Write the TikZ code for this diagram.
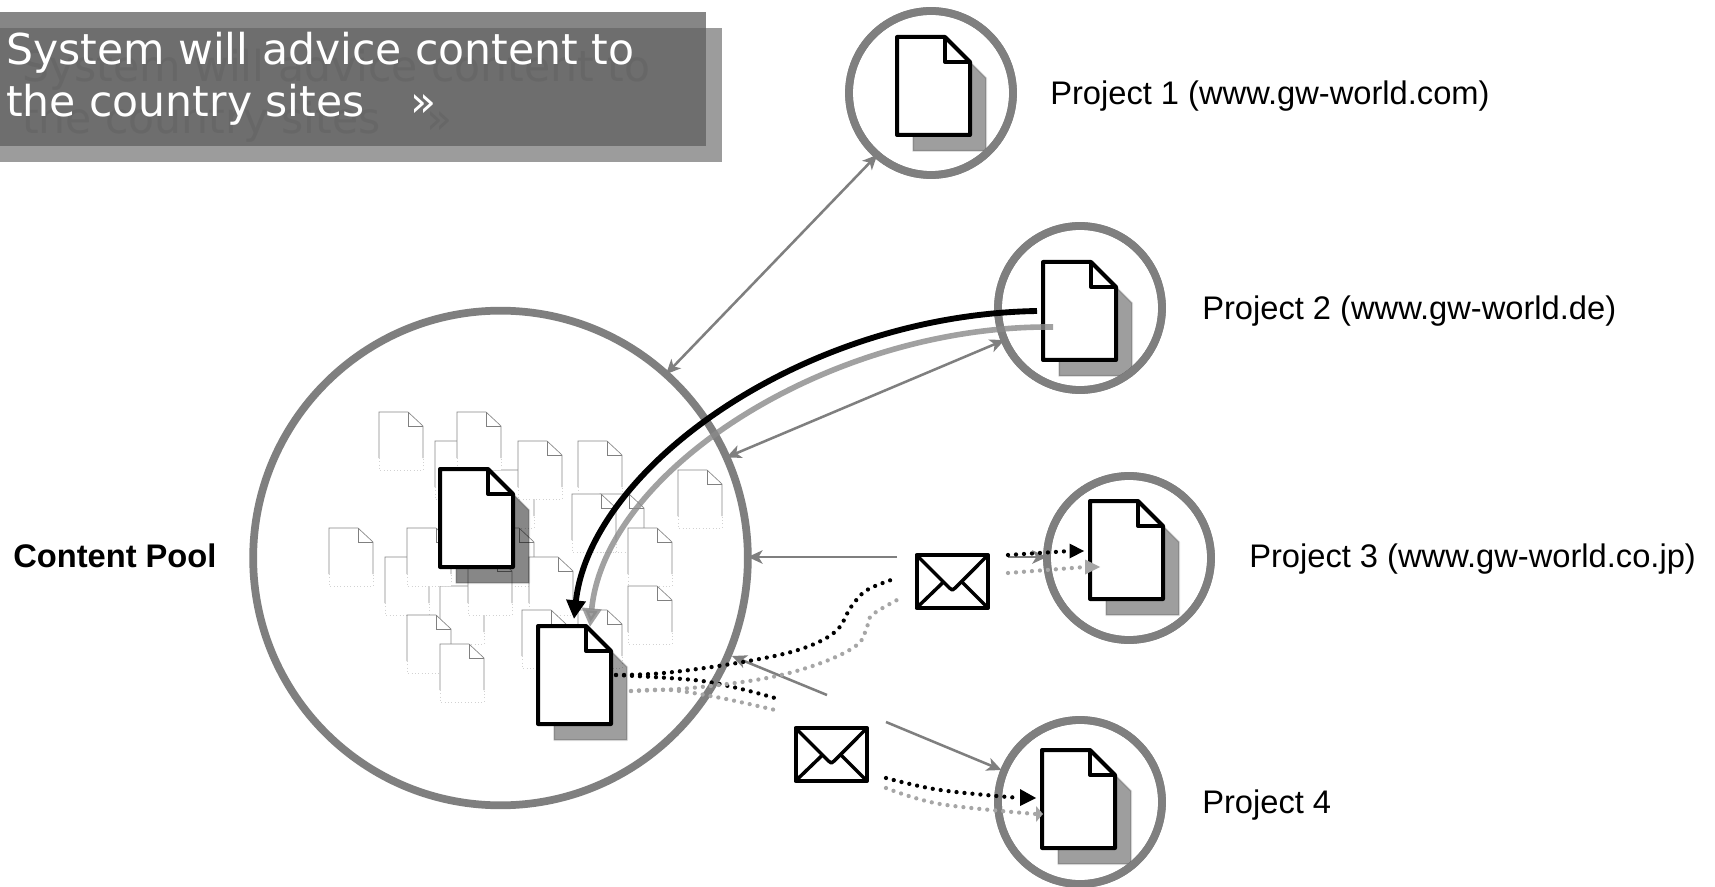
\documentclass[tikz,border=0pt]{standalone}
\usepackage{fontspec}
\setmainfont{Liberation Sans}
\newfontfamily\bannerfont{DejaVu Sans}
\usetikzlibrary{arrows.meta}
\definecolor{ringgray}{HTML}{7F7F7F}
\definecolor{lightcurve}{HTML}{8A8A8A}
\definecolor{dotgray}{HTML}{A6A6A6}
\definecolor{bannerback}{HTML}{9C9C9C}
\definecolor{bannertop}{HTML}{868686}
\definecolor{bannermid}{HTML}{6E6E6E}
\definecolor{bannerghost}{HTML}{676767}
\tikzset{
  ringline/.style={draw=ringgray,line width=5.8pt},
  ring/.style={circle,ringline,fill=white,inner sep=0pt,outer sep=0pt},
  smallring/.style={ring,minimum size=123pt},
  poolring/.style={ring,minimum size=371pt},
  thinarrow/.style={draw=ringgray,line width=1.9pt,-{Stealth[length=11pt,width=10pt,inset=3pt]}},
  thinboth/.style={draw=ringgray,line width=1.9pt,{Stealth[length=11pt,width=10pt,inset=3pt]}-{Stealth[length=11pt,width=10pt,inset=3pt]}},
  dotblack/.style={draw=black,line width=3.2pt,line cap=round,dash pattern=on 0pt off 6pt},
  dotgrayline/.style={draw=dotgray,line width=3.2pt,line cap=round,dash pattern=on 0pt off 6pt},
  tipblack/.style={fill=black},
  tipgray/.style={fill=dotgray},
  label/.style={anchor=west,inner sep=0pt,font=\fontsize{24.5}{28}\selectfont},
  doc/.style={draw=black,line width=3pt,line join=round,fill=white},
  foldline/.style={draw=black,line width=3pt,line join=round},
  envbox/.style={draw=black,line width=3pt,line join=round,fill=white},
  bannertext/.style={anchor=north west,inner sep=0pt,align=left,font=\bannerfont\fontsize{31.9}{39}\selectfont}
}
\newcommand{\bigdoc}[3]{%
  \begin{scope}[shift={(#1,#2)}]
    \fill[black,opacity=#3] (64,16)--(89,41)--(89,114)--(16,114)--(16,16)--cycle;
    \draw[black,opacity=.12,line width=1.5pt,line join=round] (64,16)--(89,41)--(89,114)--(16,114)--(16,16)--cycle;
    \path[doc] (0,0)--(48,0)--(73,25)--(73,98)--(0,98)--cycle;
    \path[foldline] (48,0)--(48,25)--(73,25);
  \end{scope}}
\newcommand{\faintdoc}[2]{%
  \begin{scope}[shift={(#1,#2)}]
    \fill[white] (0,0)--(29,0)--(44,14)--(44,58)--(0,58)--cycle;
    \draw[gray!95,line width=.5pt] (0,46)--(0,0)--(29,0)--(44,14)--(44,46);
    \draw[gray,line width=.5pt] (29,0)--(29,14)--(44,14);
    \draw[gray!35,line width=.5pt,dotted] (0,46)--(0,58)--(44,58)--(44,46);
  \end{scope}}
\newcommand{\envelope}[2]{%
  \begin{scope}[shift={(#1,#2)}]
    \path[envbox] (0,0) rectangle (71.5,53);
    \draw[black,line width=2.6pt,line join=round] (0,0)--(33,33)--(35.8,35)--(38.6,33)--(71.5,0);
    \draw[black,line width=2.6pt] (0,53)--(27.5,26.5) (71.5,53)--(45,26.5);
  \end{scope}}
\begin{document}
\begin{tikzpicture}[x=0.75pt,y=-0.75pt]
\useasboundingbox (0,0) rectangle (1715,887);
\fill[white] (0,0) rectangle (1715,887);

% banner
\fill[bannerback] (0,28) rectangle (722,162);
\fill[bannertop] (0,12) rectangle (706,146);
\fill[bannermid] (0,28) rectangle (706,146);
\node[bannertext,text=bannerghost] (ghost) at (22,49) {System will advice content to\\the country sites\hspace{34pt}»};
\node[bannertext,text=white] (title) at (6,32) {System will advice content to\\the country sites\hspace{34pt}»};

% rings
\node[poolring] (pool) at (500.5,558) {};
\node[smallring] (p1) at (931,93) {};
\node[smallring] (p2) at (1080,308) {};
\node[smallring] (p3) at (1129,558) {};
\node[smallring] (p4) at (1080,802) {};

% faint documents of the pool
\faintdoc{435}{441}\faintdoc{490}{470}\faintdoc{490}{528}\faintdoc{440}{586}\faintdoc{468}{557}
\faintdoc{379}{412}\faintdoc{457}{412}\faintdoc{518}{441}\faintdoc{578}{441}
\faintdoc{600}{494}\faintdoc{572}{494}\faintdoc{678}{470}\faintdoc{329}{528}
\faintdoc{385}{557}\faintdoc{407}{528}\faintdoc{529}{557}\faintdoc{628}{528}
\faintdoc{628}{586}\faintdoc{407}{615}\faintdoc{440}{644}
\faintdoc{522}{610}\faintdoc{578}{610}

% documents
\bigdoc{440}{469}{.47}
\bigdoc{538}{626}{.38}
\bigdoc{897}{37}{.38}
\bigdoc{1043}{262}{.38}
\bigdoc{1090}{501}{.38}
\bigdoc{1042}{750}{.38}

% ring outlines above the shadows
\draw[ringline] (p1) circle [radius=61.5pt];
\draw[ringline] (p2) circle [radius=61.5pt];
\draw[ringline] (p3) circle [radius=61.5pt];
\draw[ringline] (p4) circle [radius=61.5pt];

% envelopes
\envelope{916.5}{555}
\envelope{795.5}{728}

% labels
\node[label] (l1) at (1050,96) {Project 1 (www.gw-world.com)};
\node[label] (l2) at (1202,311) {Project 2 (www.gw-world.de)};
\node[label] (l3) at (1249,559) {Project 3 (www.gw-world.co.jp)};
\node[label] (l4) at (1202,805) {Project 4};
\node[label,font=\bfseries\fontsize{24.5}{28}\selectfont] (lpool) at (13,556) {Content Pool};

% named free ends
\coordinate (e1l) at (897,557);
\coordinate (e1r) at (1008,557);
\coordinate (e2a) at (827,695);
\coordinate (e2b) at (886,722);
\coordinate (srcblack) at (1037,311);
\coordinate (srcgray) at (1053,327);
\coordinate (dstblack) at (574,619);
\coordinate (dstgray) at (590,627);
\coordinate (dotstart) at (616,675);
\coordinate (dotgraystart) at (631,691);
\coordinate (tipa) at (1084,551);
\coordinate (tipb) at (1100,567);
\coordinate (tipc) at (1036,798);
\coordinate (tipd) at (1043,814);

% thin arrows
\draw[thinboth] (pool.48) -- (p1.229);
\draw[thinboth] (pool.24) -- (p2.203);
\draw[thinarrow] (e1l) -- (pool.east |- e1l);
\draw[thinarrow] (e1r) -- (p3.west |- e1r);
\draw[thinarrow] (e2a) -- (732,656);
\draw[thinarrow] (e2b) -- (1001.5,770);

% dotted paths
\draw[dotblack] plot[smooth,tension=.6] coordinates {(dotstart) (664,673) (737,663) (798,650) (835,632) (851,607) (867,590) (897,578)};
\draw[dotblack] plot[smooth,tension=.6] coordinates {(dotstart) (694,680) (737,688) (775,698)};
\draw[dotgrayline] plot[smooth,tension=.6] coordinates {(dotgraystart) (691,688) (767,678) (821,663) (857,645) (867,627) (872,615) (897,600)};
\draw[dotgrayline] plot[smooth,tension=.6] coordinates {(dotgraystart) (670,690) (721,698) (775,710)};

\draw[dotblack] (1008,555) -- (1070,551);
\fill[tipblack] (tipa) -- (1069.5,543.5) -- (1069.5,558.5) -- cycle;
\draw[dotgrayline] (1008,573) -- (1085,567);
\fill[tipgray] (tipb) -- (1085,559.5) -- (1085,574.5) -- cycle;
\draw[dotblack] plot[smooth,tension=.6] coordinates {(886,778) (940,790) (1020,798)};
\fill[tipblack] (tipc) -- (1020,789) -- (1020,806) -- cycle;
\draw[dotgrayline] plot[smooth,tension=.6] coordinates {(886,788) (940,804) (1036,814)};
\fill[tipgray] (tipd) -- (1036,806) -- (1036,822) -- cycle;

% thick curves
\draw[lightcurve,opacity=.8,line width=4.2pt,-{Triangle[length=14pt,width=14pt]}] (srcgray) .. controls (830,325) and (605,470) .. (dstgray);
\draw[black,line width=4.4pt,-{Triangle[length=14pt,width=14pt]}] (srcblack) .. controls (800,315) and (590,470) .. (dstblack);
\end{tikzpicture}
\end{document}
